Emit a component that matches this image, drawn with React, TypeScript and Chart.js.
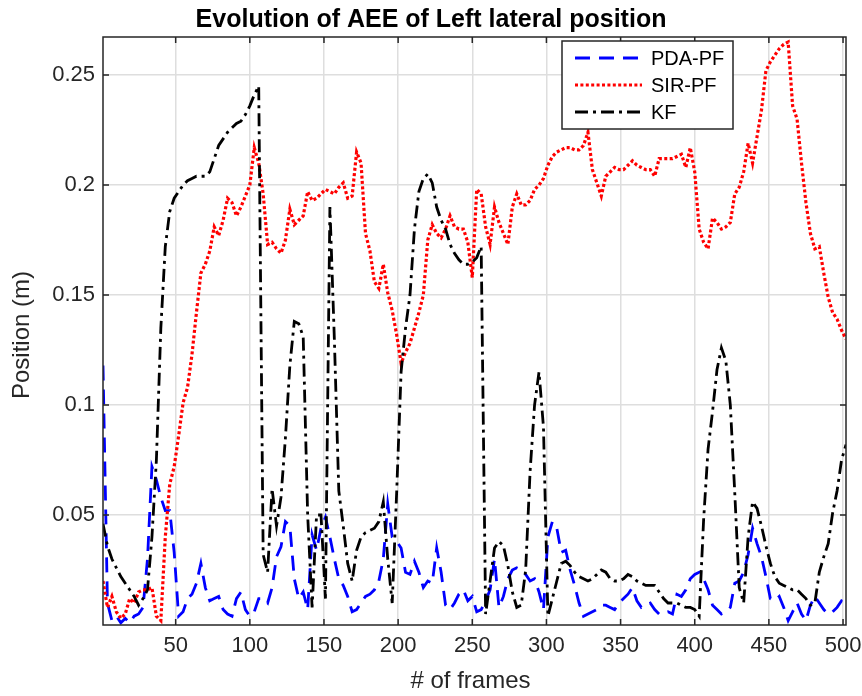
import { useEffect, useRef } from "react";
import { Chart, registerables } from "chart.js";

Chart.register(...registerables);

// Frames are sampled every third frame, starting at frame 1.
const FRAME_START = 1;
const FRAME_STEP = 3;

// Average estimation error (m) per sampled frame.
const pdaPf = [
  0.118, 0.01, 0.002, 0.004, 0.001, 0.003, 0.001, 0.004, 0.005, 0.008,
  0.03, 0.072, 0.066, 0.058, 0.052, 0.052, 0.033, 0.004, 0.006, 0.012,
  0.014, 0.019, 0.028, 0.017, 0.011, 0.012, 0.013, 0.007, 0.005, 0.004,
  0.012, 0.015, 0.007, 0.004, 0.006, 0.012, 0.012, 0.01, 0.017, 0.031,
  0.0355, 0.047, 0.045, 0.021, 0.012, 0.015, 0.007, 0.041, 0.034, 0.044,
  0.049, 0.04, 0.03, 0.021, 0.018, 0.013, 0.006, 0.007, 0.01, 0.013,
  0.014, 0.016, 0.02, 0.03, 0.055, 0.04, 0.038, 0.035, 0.024, 0.023,
  0.029, 0.024, 0.017, 0.02, 0.019, 0.035, 0.024, 0.009, 0.007, 0.01,
  0.014, 0.016, 0.011, 0.013, 0.006, 0.007, 0.011, 0.016, 0.03, 0.008,
  0.013, 0.021, 0.025, 0.026, 0.025, 0.023, 0.02, 0.021, 0.015, 0.007,
  0.04, 0.047, 0.044, 0.033, 0.034, 0.025, 0.018, 0.01, 0.004, 0.005,
  0.006, 0.007, 0.009, 0.009, 0.008, 0.007, 0.01, 0.012, 0.014, 0.017,
  0.011, 0.008, 0.009, 0.01, 0.007, 0.005, 0.005, 0.006, 0.005, 0.014,
  0.013, 0.016, 0.021, 0.023, 0.024, 0.021, 0.016, 0.009, 0.007, 0.005,
  0.006, 0.008, 0.019, 0.02, 0.024, 0.032, 0.044, 0.037, 0.031, 0.022,
  0.012, 0.011, 0.013, 0.008, 0.002, 0.006, 0.01, 0.005, 0.002, 0.009,
  0.013, 0.01, 0.007, 0.005, 0.006, 0.008, 0.011, 0.01,
];

const sirPf = [
  0.02, 0.008, 0.013, 0.006, 0.003, 0.005, 0.012, 0.01, 0.015, 0.016,
  0.016, 0.017, 0.004, 0.002, 0.04, 0.064, 0.072, 0.086, 0.101, 0.108,
  0.123, 0.142, 0.16, 0.164, 0.17, 0.181, 0.177, 0.184, 0.194, 0.192,
  0.186, 0.19, 0.195, 0.2, 0.217, 0.21, 0.196, 0.173, 0.174, 0.171,
  0.169, 0.175, 0.189, 0.182, 0.184, 0.186, 0.197, 0.193, 0.194, 0.196,
  0.198, 0.197, 0.196, 0.199, 0.201, 0.194, 0.195, 0.215, 0.21, 0.178,
  0.17, 0.156, 0.153, 0.164, 0.151, 0.143, 0.132, 0.119, 0.124, 0.128,
  0.135, 0.142, 0.15, 0.175, 0.182, 0.178, 0.176, 0.18, 0.186, 0.181,
  0.18, 0.18, 0.174, 0.158, 0.198, 0.196, 0.181, 0.173, 0.19, 0.183,
  0.178, 0.173, 0.19, 0.196, 0.191, 0.191, 0.193, 0.198, 0.2, 0.203,
  0.209, 0.213, 0.215, 0.216, 0.217, 0.217, 0.216, 0.216, 0.218, 0.224,
  0.207, 0.201, 0.195, 0.204, 0.206, 0.208, 0.207, 0.207, 0.209, 0.211,
  0.209, 0.208, 0.207, 0.207, 0.204, 0.212, 0.212, 0.212, 0.212, 0.213,
  0.214, 0.208, 0.217, 0.206, 0.18, 0.174, 0.171, 0.185, 0.183, 0.18,
  0.181, 0.183, 0.196, 0.199, 0.206, 0.219, 0.21, 0.222, 0.234, 0.252,
  0.256, 0.259, 0.262, 0.264, 0.265, 0.236, 0.23, 0.21, 0.192, 0.178,
  0.171, 0.172, 0.16, 0.149, 0.142, 0.139, 0.134, 0.13,
];

const kf = [
  0.046, 0.036, 0.03, 0.026, 0.022, 0.019, 0.016, 0.013, 0.009, 0.012,
  0.016, 0.04, 0.075, 0.135, 0.172, 0.188, 0.194, 0.197, 0.2, 0.202,
  0.203, 0.204, 0.204, 0.204, 0.206, 0.212, 0.218, 0.221, 0.224, 0.226,
  0.228, 0.229, 0.232, 0.236, 0.241, 0.245, 0.032, 0.024, 0.062, 0.045,
  0.058, 0.085, 0.118, 0.138, 0.137, 0.131, 0.05, 0.008, 0.05, 0.05,
  0.012, 0.19, 0.13, 0.061, 0.045, 0.028, 0.02, 0.034, 0.04, 0.042,
  0.043, 0.044, 0.047, 0.056, 0.03, 0.01, 0.06, 0.115, 0.135, 0.15,
  0.18, 0.197, 0.203, 0.205, 0.201, 0.19, 0.184, 0.18, 0.173, 0.169,
  0.166, 0.164, 0.164, 0.165, 0.167, 0.172, 0.005, 0.02, 0.035, 0.038,
  0.036, 0.027, 0.015, 0.008, 0.009, 0.025, 0.07, 0.1, 0.115, 0.09,
  0.004, 0.012, 0.02, 0.028, 0.029, 0.027, 0.024, 0.022, 0.021, 0.02,
  0.021, 0.023, 0.025, 0.024, 0.021, 0.02, 0.02, 0.021, 0.023, 0.022,
  0.02, 0.019, 0.018, 0.018, 0.018, 0.015, 0.012, 0.01, 0.01, 0.01,
  0.009, 0.008, 0.008, 0.007, 0.004, 0.048, 0.08, 0.097, 0.116, 0.126,
  0.12, 0.1, 0.06, 0.017, 0.01, 0.04, 0.056, 0.053, 0.045, 0.036,
  0.028, 0.022, 0.019, 0.018, 0.017, 0.016, 0.016, 0.014, 0.012, 0.009,
  0.01, 0.024, 0.031, 0.037, 0.051, 0.061, 0.075, 0.082,
];

const frames = kf.map((_, i) => FRAME_START + i * FRAME_STEP);

const xTicks = [50, 100, 150, 200, 250, 300, 350, 400, 450, 500];
const yTicks = [0.05, 0.1, 0.15, 0.2, 0.25];

const X_MIN = 1;
const X_MAX = 502;
const Y_MIN = 0;
const Y_MAX = 0.2673;

const FONT = '"Liberation Sans", Arial, Helvetica, sans-serif';
const AXIS_COLOR = "#262626";

const series = [
  { label: "PDA-PF", data: pdaPf, color: "#0000ff", dash: [15, 9], width: 2.8 },
  { label: "SIR-PF", data: sirPf, color: "#ff0000", dash: [3, 2.4], width: 3.2 },
  { label: "KF", data: kf, color: "#000000", dash: [13, 5, 3, 5], width: 2.8 },
];

// Axes box with inward tick marks on all four sides, MATLAB style.
const boxPlugin = {
  id: "axesBox",
  afterDatasetsDraw(chart: any) {
    const { ctx, chartArea } = chart;
    const { left, right, top, bottom } = chartArea;
    const xs = chart.scales.x;
    const ys = chart.scales.y;
    ctx.save();
    ctx.strokeStyle = AXIS_COLOR;
    ctx.lineWidth = 1.5;
    ctx.setLineDash([]);
    ctx.strokeRect(left, top, right - left, bottom - top);
    const len = 6;
    ctx.beginPath();
    for (const v of xTicks) {
      const px = xs.getPixelForValue(v);
      ctx.moveTo(px, bottom);
      ctx.lineTo(px, bottom - len);
      ctx.moveTo(px, top);
      ctx.lineTo(px, top + len);
    }
    for (const v of yTicks) {
      const py = ys.getPixelForValue(v);
      ctx.moveTo(left, py);
      ctx.lineTo(left + len, py);
      ctx.moveTo(right, py);
      ctx.lineTo(right - len, py);
    }
    ctx.stroke();
    ctx.restore();
  },
  afterDraw(chart: any) {
    const { ctx, chartArea } = chart;
    const { left, right, top, bottom } = chartArea;
    ctx.save();
    ctx.fillStyle = "#000";
    ctx.textAlign = "center";
    ctx.textBaseline = "alphabetic";
    ctx.font = `bold 25px ${FONT}`;
    ctx.fillText("Evolution of AEE of Left lateral position", 431, 27);

    ctx.fillStyle = AXIS_COLOR;
    ctx.font = `24px ${FONT}`;
    ctx.textBaseline = "middle";
    ctx.fillText("# of frames", (left + right) / 2 - 4, 681);
    ctx.save();
    ctx.translate(22, (top + bottom) / 2 + 4);
    ctx.rotate(-Math.PI / 2);
    ctx.fillText("Position (m)", 0, 0);
    ctx.restore();

    // Legend box in the upper right of the axes.
    const bx = 562;
    const by = 41;
    const bw = 171;
    const bh = 88;
    ctx.fillStyle = "#fff";
    ctx.fillRect(bx, by, bw, bh);
    ctx.strokeStyle = AXIS_COLOR;
    ctx.lineWidth = 1.5;
    ctx.setLineDash([]);
    ctx.strokeRect(bx, by, bw, bh);
    const rowY = [58, 85, 112];
    series.forEach((s, i) => {
      ctx.beginPath();
      ctx.strokeStyle = s.color;
      ctx.lineWidth = s.width;
      ctx.setLineDash(s.dash);
      ctx.moveTo(575, rowY[i]);
      ctx.lineTo(642, rowY[i]);
      ctx.stroke();
      ctx.setLineDash([]);
      ctx.fillStyle = "#000";
      ctx.textAlign = "left";
      ctx.font = `20px ${FONT}`;
      ctx.fillText(s.label, 651, rowY[i] + 1);
    });
    ctx.restore();
  },
};

export default function App() {
  const canvasRef = useRef<HTMLCanvasElement | null>(null);

  useEffect(() => {
    const canvas = canvasRef.current;
    if (!canvas) return;
    const chart = new Chart(canvas, {
      type: "line",
      data: {
        labels: frames,
        datasets: series.map((s, i) => ({
          label: s.label,
          data: s.data.map((y, j) => ({ x: frames[j], y })),
          borderColor: s.color,
          borderWidth: s.width,
          borderDash: s.dash,
          borderCapStyle: "butt" as const,
          pointRadius: 0,
          tension: 0,
          fill: false,
          order: series.length - i,
        })),
      },
      options: {
        responsive: false,
        animation: false,
        events: [],
        layout: { padding: { top: 37, right: 16, left: 0, bottom: 0 } },
        plugins: {
          legend: { display: false },
          title: { display: false },
          tooltip: { enabled: false },
        },
        scales: {
          x: {
            type: "linear",
            min: X_MIN,
            max: X_MAX,
            afterBuildTicks: (scale: any) => {
              scale.ticks = xTicks.map((v) => ({ value: v }));
            },
            afterFit: (scale: any) => {
              scale.height = 71;
              scale.paddingLeft = 0;
              scale.paddingRight = 0;
            },
            border: { display: false },
            grid: { color: "#dedede", lineWidth: 1.5, drawTicks: false },
            ticks: {
              color: AXIS_COLOR,
              font: { family: FONT, size: 22 },
              padding: 8,
              maxRotation: 0,
              autoSkip: false,
              callback: (v: any) => String(v),
            },
          },
          y: {
            type: "linear",
            min: Y_MIN,
            max: Y_MAX,
            afterBuildTicks: (scale: any) => {
              scale.ticks = yTicks.map((v) => ({ value: v }));
            },
            afterFit: (scale: any) => {
              scale.width = 103;
              scale.paddingTop = 0;
              scale.paddingBottom = 0;
            },
            border: { display: false },
            grid: { color: "#dedede", lineWidth: 1.5, drawTicks: false },
            ticks: {
              color: AXIS_COLOR,
              font: { family: FONT, size: 22 },
              padding: 8,
              autoSkip: false,
              callback: (v: any) => String(Number(v.toFixed(2))),
            },
          },
        },
      },
      plugins: [boxPlugin],
    });
    return () => chart.destroy();
  }, []);

  return (
    <div style={{ position: "fixed", left: 0, top: 0, width: 862, height: 696, background: "#fff" }}>
      <canvas ref={canvasRef} width={862} height={696} />
    </div>
  );
}
